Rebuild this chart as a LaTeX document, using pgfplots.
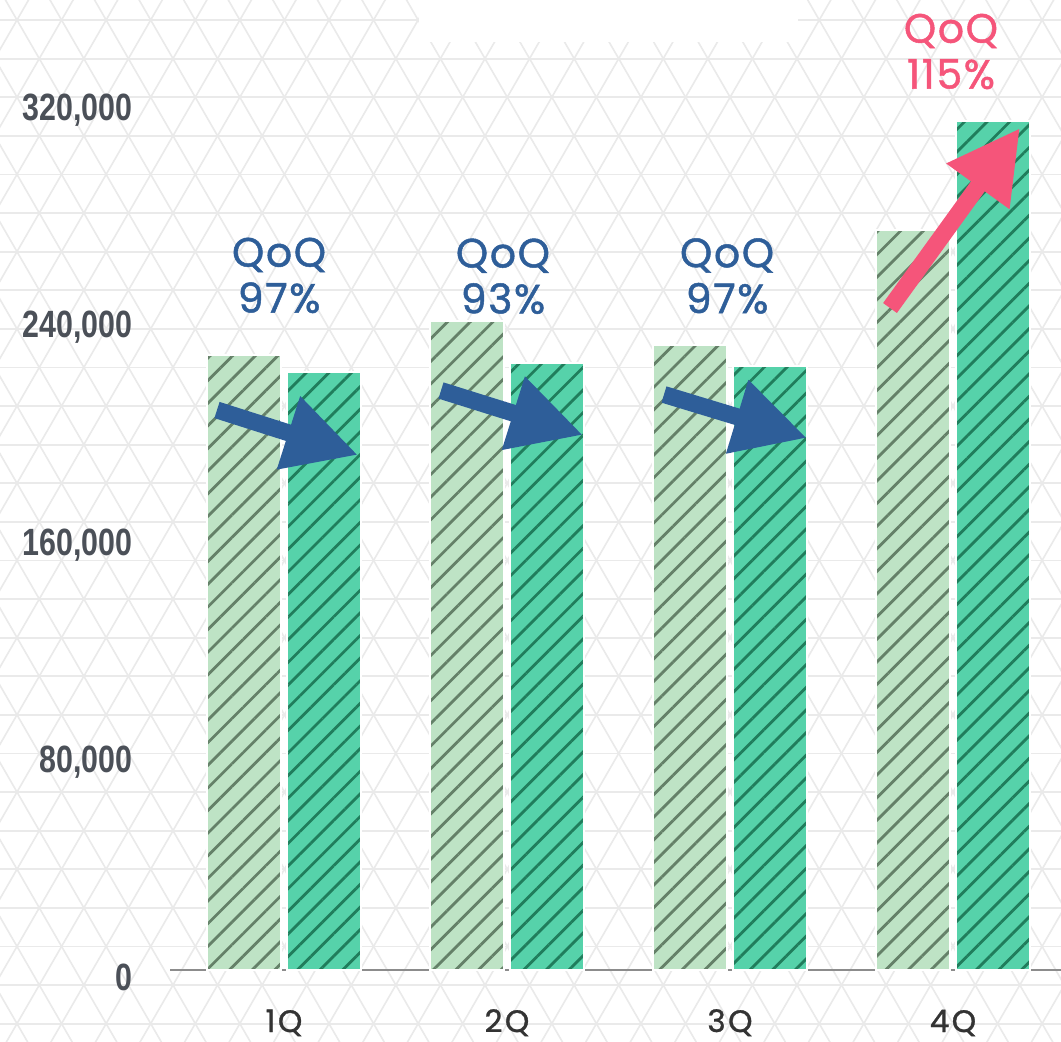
\documentclass[border=0pt]{standalone}
\usepackage{fontspec}
\usepackage{pgfplots}
\usepackage{pgfplotstable}
\pgfplotsset{compat=1.18}
\usetikzlibrary{patterns.meta,arrows.meta}
\setmainfont{Poppins}
\newfontfamily\ticfont[FakeStretch=0.8]{Liberation Sans}
\newfontfamily\qfont[LetterSpace=4,FakeBold=1.2]{Poppins}
\newfontfamily\xfont[LetterSpace=8,FakeBold=1]{Poppins}
\definecolor{lightbar}{RGB}{190,227,197}
\definecolor{darkbar}{RGB}{86,210,170}
\definecolor{lighthatch}{RGB}{100,128,104}
\definecolor{darkhatch}{RGB}{32,125,92}
\definecolor{qblue}{RGB}{46,94,153}
\definecolor{qpink}{RGB}{245,85,122}
\definecolor{latt}{RGB}{234,234,234}
\definecolor{ticgray}{RGB}{75,80,88}
\definecolor{xlabcol}{RGB}{51,51,51}
\definecolor{axisgray}{RGB}{140,140,140}

\pgfplotstableread{
x prev curr
0 226300 220100
1 238900 223400
2 230000 222300
3 272400 312500
}\sales

\begin{document}
\begin{tikzpicture}
\useasboundingbox (0,0) rectangle (530.5pt,-520.5pt);
% background lattice (pixel coordinates)
\begin{scope}[x=0.5pt,y=-0.5pt]
\clip (0,0) rectangle (1061,1041);
\fill[white] (0,0) rectangle (1061,1041);
\foreach \k in {0,...,27} \draw[latt, line width=0.9pt] (0,20+38.6*\k) -- (1061,20+38.6*\k);
\foreach \n in {-15,...,24} \draw[latt, line width=0.8pt] (17+44.57*\n-22.285,-18.6) -- ++(22.285*29,38.6*29);
\foreach \n in {-1,...,38} \draw[latt, line width=0.8pt] (17+44.57*\n+22.285,-18.6) -- ++(-22.285*29,38.6*29);
\fill[white] (419,0) rectangle (798,42);
\end{scope}

\begin{axis}[
  at={(85pt,-485pt)}, anchor=south west, scale only axis,
  width=445.5pt, height=485pt,
  xmin=-0.5112, xmax=3.4843, ymin=0, ymax=356945,
  axis x line=bottom, axis y line=left,
  y axis line style={draw=none},
  x axis line style={draw=axisgray, line width=1pt, -},
  major tick length=0pt,
  xtick={0,1,2,3}, xticklabels={1Q,2Q,3Q,4Q},
  xticklabel style={font=\xfont\fontsize{15.5}{17}\selectfont, text=xlabcol, anchor=base, inner sep=0pt, yshift=-31pt},
  ytick={0,80000,160000,240000,320000},
  yticklabels={0,{80,000},{160,000},{240,000},{320,000}},
  scaled y ticks=false,
  yticklabel style={font=\ticfont\bfseries\fontsize{19}{21}\selectfont, text=ticgray, anchor=base east, inner sep=0pt, xshift=-18.5pt, yshift=-10pt},
  clip=false,
]
\addplot[ybar, bar width=37pt, bar shift=-20pt, fill=lightbar, draw=white, line width=1pt,
  postaction={pattern={Lines[angle=45,distance=8pt,line width=1.4pt]}, pattern color=lighthatch}]
  table[x=x,y=prev]{\sales};
\addplot[ybar, bar width=37pt, bar shift=20pt, fill=darkbar, draw=white, line width=1pt,
  postaction={pattern={Lines[angle=45,distance=8pt,line width=1.4pt]}, pattern color=darkhatch}]
  table[x=x,y=curr]{\sales};

\node[text=qblue, align=center, font=\qfont\fontsize{20.5}{23}\selectfont] at (axis cs:-0.022,255600) {QoQ\\97\%};
\node[text=qblue, align=center, font=\qfont\fontsize{20.5}{23}\selectfont] at (axis cs:0.982,255300) {QoQ\\93\%};
\node[text=qblue, align=center, font=\qfont\fontsize{20.5}{23}\selectfont] at (axis cs:1.987,255400) {QoQ\\97\%};
\node[text=qpink, align=center, font=\qfont\fontsize{20.5}{23}\selectfont] at (axis cs:2.991,338000) {QoQ\\115\%};
\end{axis}

% arrows (pixel coordinates)
\begin{scope}[x=0.5pt,y=-0.5pt]
\draw[qblue, line width=8.5pt, -{Triangle[length=36.5pt,width=36pt]}] (217,410) -- (358,455);
\draw[qblue, line width=8.5pt, -{Triangle[length=36.5pt,width=36pt]}] (441,390.5) -- (583,435);
\draw[qblue, line width=8.5pt, -{Triangle[length=36.5pt,width=36pt]}] (664,394.5) -- (807,438);
\draw[qpink, line width=8.5pt, -{Triangle[length=36pt,width=36.5pt]}] (890,308) -- (1020,128);
\end{scope}
\end{tikzpicture}
\end{document}
